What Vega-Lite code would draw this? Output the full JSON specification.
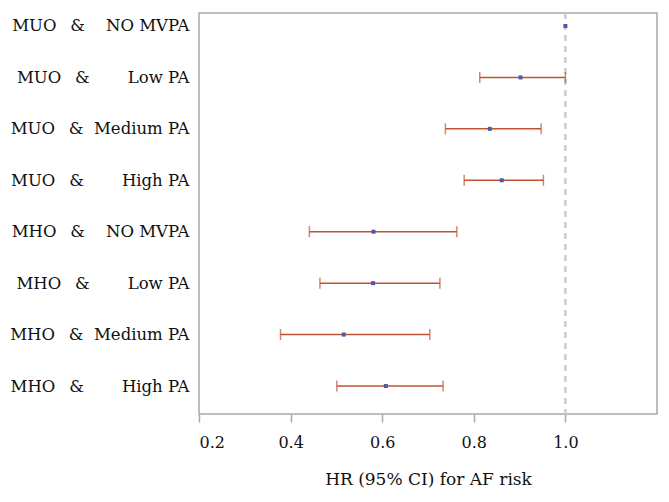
{
  "$schema": "https://vega.github.io/schema/vega-lite/v6.json",
  "width": 458,
  "height": 401,
  "padding": {"left": 9, "top": 12, "right": 12, "bottom": 10},
  "background": "white",
  "config": {
    "view": {"stroke": "#a8a8a8", "strokeWidth": 1.5},
    "font": "DejaVu Serif",
    "axis": {"labelFont": "DejaVu Serif", "titleFont": "DejaVu Serif"}
  },
  "data": {
    "values": [
      {"label": "MUO\u00a0\u00a0\u2009&\u00a0\u00a0\u00a0\u00a0NO MVPA", "order": 1, "hr": 1.0, "lo": null, "hi": null},
      {"label": "MUO\u00a0\u00a0\u2009&\u00a0\u00a0\u00a0\u00a0\u00a0\u00a0\u2009\u2009Low PA", "order": 2, "hr": 0.902, "lo": 0.813, "hi": 1.0},
      {"label": "MUO\u00a0\u00a0\u2009&\u00a0\u00a0Medium PA", "order": 3, "hr": 0.835, "lo": 0.738, "hi": 0.947},
      {"label": "MUO\u00a0\u00a0\u2009&\u00a0\u00a0\u00a0\u00a0\u00a0\u00a0\u2009\u2009High PA", "order": 4, "hr": 0.861, "lo": 0.779, "hi": 0.952},
      {"label": "MHO\u00a0\u00a0\u2009&\u00a0\u00a0\u00a0\u00a0NO MVPA", "order": 5, "hr": 0.581, "lo": 0.441, "hi": 0.763},
      {"label": "MHO\u00a0\u00a0\u2009&\u00a0\u00a0\u00a0\u00a0\u00a0\u00a0\u2009\u2009Low PA", "order": 6, "hr": 0.580, "lo": 0.464, "hi": 0.726},
      {"label": "MHO\u00a0\u00a0\u2009&\u00a0\u00a0Medium PA", "order": 7, "hr": 0.516, "lo": 0.378, "hi": 0.704},
      {"label": "MHO\u00a0\u00a0\u2009&\u00a0\u00a0\u00a0\u00a0\u00a0\u00a0\u2009\u2009High PA", "order": 8, "hr": 0.608, "lo": 0.501, "hi": 0.733}
    ]
  },
  "encoding": {
    "y": {
      "field": "label",
      "type": "nominal",
      "sort": {"field": "order"},
      "scale": {"type": "point", "padding": 0.3985, "align": 0.317},
      "axis": {
        "title": null,
        "domain": false,
        "ticks": false,
        "labelFont": "DejaVu Serif",
        "labelFontSize": 16.5,
        "labelColor": "#111",
        "labelPadding": 10,
        "labelLimit": 400
      }
    }
  },
  "layer": [
    {
      "mark": {"type": "rule", "color": "#cfcfcf", "strokeDash": [6, 5], "strokeWidth": 1.5},
      "encoding": {
        "x": {"datum": 1.0, "type": "quantitative", "scale": {"domain": [0.2, 1.2], "nice": false}},
        "y": null
      }
    },
    {
      "mark": {"type": "rule", "color": "#bf5530", "strokeWidth": 1.5},
      "encoding": {
        "x": {
          "field": "lo",
          "type": "quantitative",
          "scale": {"domain": [0.2, 1.2], "nice": false, "zero": false},
          "axis": {
            "values": [0.2, 0.4, 0.6, 0.8, 1.0],
            "format": ".1f",
            "domain": false,
            "grid": false,
            "tickColor": "#a8a8a8",
            "tickSize": 8,
            "tickWidth": 1.5,
            "labelFont": "DejaVu Serif",
            "labelFontSize": 16,
            "labelColor": "#111",
            "labelPadding": 12,
            "title": "HR (95% CI) for AF risk",
            "titleFont": "DejaVu Serif",
            "titleFontSize": 17,
            "titleFontWeight": "normal",
            "titleColor": "#111",
            "titlePadding": 21
          }
        },
        "x2": {"field": "hi"}
      }
    },
    {
      "mark": {"type": "tick", "orient": "vertical", "color": "#bf5530", "thickness": 1.5, "size": 11},
      "encoding": {"x": {"field": "lo", "type": "quantitative"}}
    },
    {
      "mark": {"type": "tick", "orient": "vertical", "color": "#bf5530", "thickness": 1.5, "size": 11},
      "encoding": {"x": {"field": "hi", "type": "quantitative"}}
    },
    {
      "mark": {"type": "square", "color": "#4a5aa8", "opacity": 1, "size": 16, "filled": true},
      "encoding": {"x": {"field": "hr", "type": "quantitative"}}
    }
  ]
}
